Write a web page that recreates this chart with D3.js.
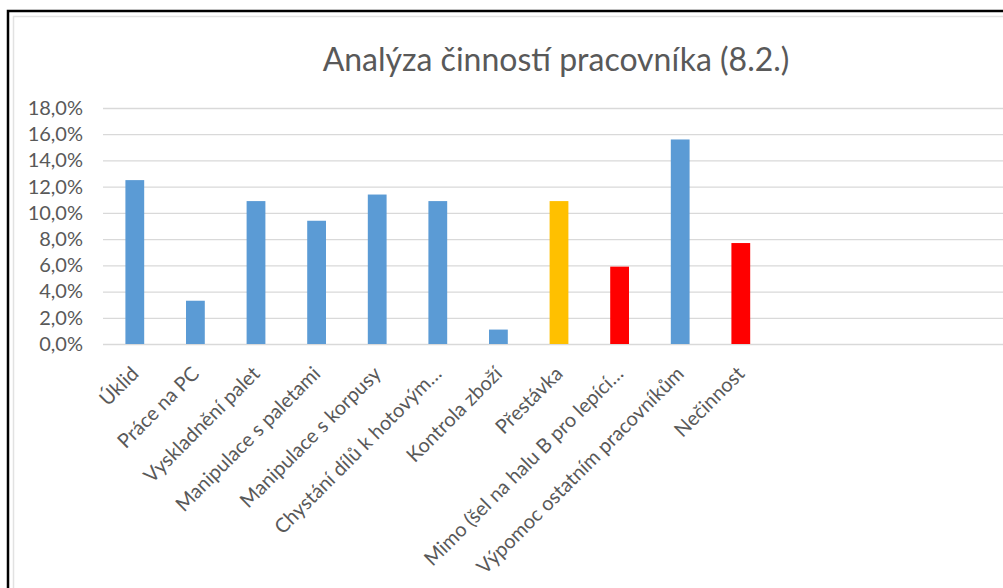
<!DOCTYPE html>
<html>
<head>
<meta charset="utf-8">
<script src="https://cdn.jsdelivr.net/npm/d3@7"></script>
<style>
  body { margin: 0; background: #fff; }
  svg { display: block; font-family: Lato, "Open Sans", sans-serif; }
</style>
</head>
<body>
<svg id="chart" width="1003" height="588"></svg>
<script>
// data
var categories = ["Úklid", "Práce na PC", "Vyskladnění palet", "Manipulace s paletami",
  "Manipulace s korpusy", "Chystání dílů k hotovým…", "Kontrola zboží", "Přestávka",
  "Mimo (šel na halu B pro lepící…", "Výpomoc ostatním pracovníkům", "Nečinnost"];
var values = [12.5, 3.3, 10.9, 9.4, 11.4, 10.9, 1.1, 10.9, 5.9, 15.6, 7.7];
var groups = ["prace", "prace", "prace", "prace", "prace", "prace", "prace",
  "prestavka", "ztrata", "prace", "ztrata"];
var yTicks = [0, 2, 4, 6, 8, 10, 12, 14, 16, 18];
var title = "Analýza činností pracovníka (8.2.)";

var W = 1003, H = 588;
var FONT = "Lato, 'Open Sans', sans-serif";
var svg = d3.select("#chart");

// frame (chart is cropped on the right and bottom)
svg.append("path").attr("d", "M13.5," + H + "V16.5H" + W)
  .attr("fill", "none").attr("stroke", "#e2e2e2").attr("stroke-width", 1.5);
svg.append("path").attr("d", "M8," + H + "V11H" + W)
  .attr("fill", "none").attr("stroke", "#000").attr("stroke-width", 2.5);

var plotLeft = 103, plotTop = 108, plotBottom = 344;
var step = 60.6;

var x = d3.scaleBand()
  .domain(categories)
  .range([plotLeft + 1.5, plotLeft + 1.5 + step * categories.length])
  .paddingInner(0.69)
  .paddingOuter(0.345);

var y = d3.scaleLinear().domain([0, 18]).range([plotBottom, plotTop]);

var color = d3.scaleOrdinal()
  .domain(["prace", "prestavka", "ztrata"])
  .range(["#5b9bd5", "#ffc000", "#ff0000"]);

// title
svg.append("text")
  .attr("x", 556).attr("y", 71)
  .attr("text-anchor", "middle")
  .attr("font-family", FONT)
  .attr("font-size", 32)
  .attr("fill", "#595959")
  .text(title);

// y axis with gridlines
var yAxis = d3.axisLeft(y)
  .tickValues(yTicks)
  .tickSize(-(W - plotLeft))
  .tickPadding(20)
  .tickFormat(function(d) { return d3.format(".1f")(d).replace(".", ",") + "%"; });

var gy = svg.append("g")
  .attr("transform", "translate(" + plotLeft + ",0)")
  .call(yAxis)
  .attr("font-family", FONT);
gy.select(".domain").remove();
gy.selectAll(".tick line").attr("stroke", "#d9d9d9").attr("stroke-width", 1.3);
gy.selectAll(".tick text")
  .attr("x", -20)
  .attr("fill", "#595959")
  .attr("font-size", 20);

// bars
svg.append("g").selectAll("rect")
  .data(values)
  .enter().append("rect")
  .attr("x", function(d, i) { return x(categories[i]); })
  .attr("width", x.bandwidth())
  .attr("y", function(d) { return y(d); })
  .attr("height", function(d) { return y(0) - y(d); })
  .attr("fill", function(d, i) { return color(groups[i]); });

// x axis labels
var xAxis = d3.axisBottom(x).tickSize(0).tickPadding(0);
var gx = svg.append("g")
  .attr("transform", "translate(0," + plotBottom + ")")
  .call(xAxis)
  .attr("font-family", FONT);
gx.select(".domain").remove();
gx.selectAll(".tick text")
  .attr("fill", "#595959")
  .attr("font-size", 20)
  .attr("text-anchor", "end")
  .attr("dy", 0)
  .attr("transform", "translate(5,31) rotate(-45)");
</script>
</body>
</html>
